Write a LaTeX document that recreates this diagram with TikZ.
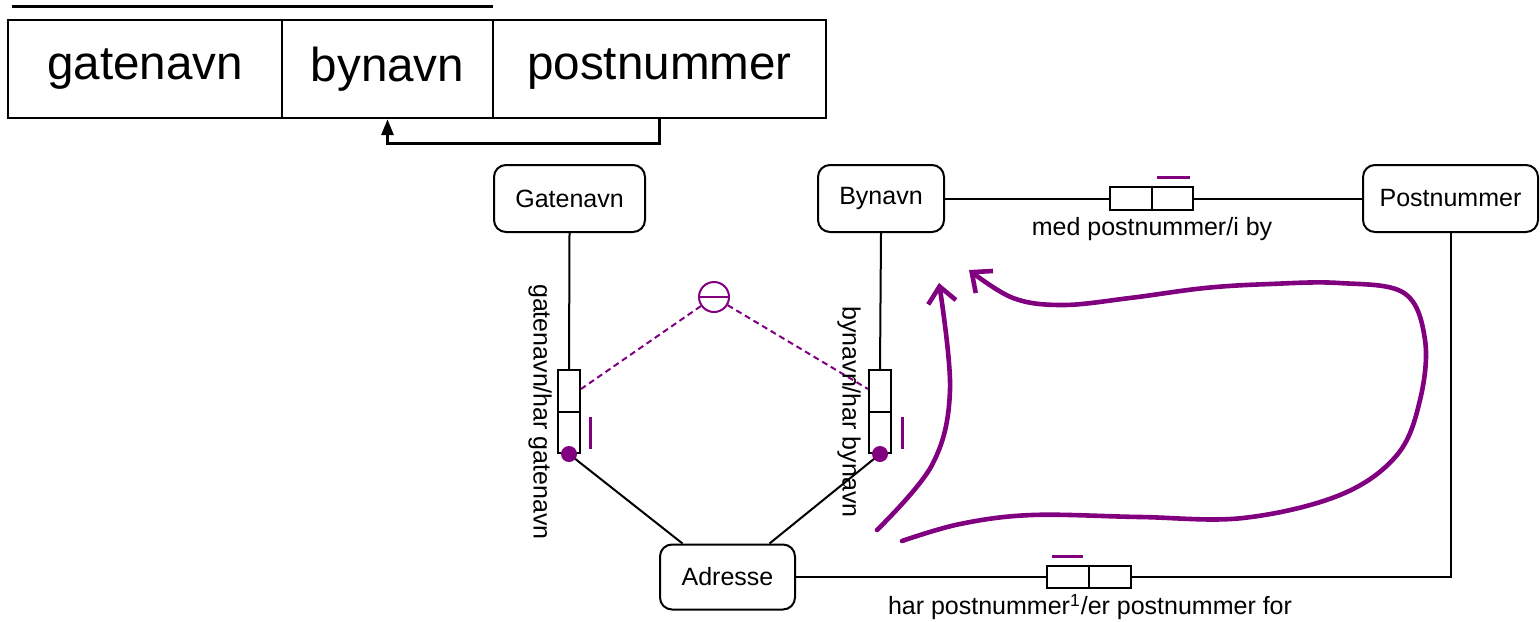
\documentclass[tikz,border=0pt]{standalone}
\usepackage{fontspec}
\setmainfont{Liberation Sans}
\usetikzlibrary{arrows.meta,calc}
\definecolor{plum}{HTML}{800080}

\begin{document}
\begin{tikzpicture}[x=0.5pt,y=-0.5pt,
  cell/.style={draw, line width=1.2pt, minimum height=49pt, inner sep=0pt,
    font=\fontsize{23.8}{28}\selectfont},
  entity/.style={draw, line width=1pt, rounded corners=6pt, inner sep=0pt,
    minimum height=33.5pt, font=\fontsize{12.5}{15}\selectfont},
  rolebox/.style={draw, line width=1pt, inner sep=0pt},
  conn/.style={line width=1pt},
  lbl/.style={inner sep=0pt, font=\fontsize{12.5}{15}\selectfont},
  bar/.style={draw=plum, line width=1.5pt},
  dotline/.style={draw=plum, line width=1pt, dash pattern=on 3pt off 2pt},
  sketch/.style={draw=plum, line width=2.3pt, line cap=round, smooth, tension=0.6},
  sketchtip/.style={-{Straight Barb[length=8pt,width=14pt,line width=2.3pt]}}
]
\useasboundingbox (0,0) rectangle (1540,621);

% relation schema
\draw[line width=1.5pt] (12,6) -- (493,6);
\node[cell, minimum width=137pt] (cgate) at (145,69) {gatenavn};
\node[cell, minimum width=105.5pt] (cby) at (387.5,69) {bynavn};
\node[cell, minimum width=166.5pt] (cpost) at (659.5,69) {postnummer};
\draw[line width=1.5pt, -{Triangle[length=8pt,width=6pt]}]
  (cpost.south) -- ++(0,24) -| (cby.south);

% entities
\node[entity, minimum width=75.5pt] (gatenavn) at (569.5,198.5) {Gatenavn};
\node[entity, minimum width=63pt] (bynavn) at (881,198.5) {Bynavn};
\node[entity, minimum width=87.5pt] (postnummer) at (1450.5,198.5) {Postnummer};
\node[entity, minimum width=67.5pt, minimum height=32.5pt] (adresse) at (727.5,577) {Adresse};

% role boxes
\node[rolebox, minimum width=41.5pt, minimum height=11.5pt] (rbp) at (1151.5,198.5) {};
\draw[conn] (rbp.north) -- (rbp.south);
\node[rolebox, minimum width=11pt, minimum height=41.5pt] (rg) at (569,411.5) {};
\draw[conn] (rg.west) -- (rg.east);
\node[rolebox, minimum width=11pt, minimum height=41.5pt] (rb) at (880,411.5) {};
\draw[conn] (rb.west) -- (rb.east);
\node[rolebox, minimum width=42pt, minimum height=11pt] (rp) at (1089,577) {};
\draw[conn] (rp.north) -- (rp.south);

% connectors
\draw[conn] (bynavn.east) -- (rbp.west);
\draw[conn] (rbp.east) -- (postnummer.west);
\draw[conn] (gatenavn.south) -- (rg.north);
\draw[conn] (rg.south) -- ($(adresse.north)+(-45,0)$);
\draw[conn] (bynavn.south) -- (rb.north);
\draw[conn] (rb.south) -- ($(adresse.north)+(42,0)$);
\draw[conn] (postnummer.south) |- (rp.east);
\draw[conn] (rp.west) -- (adresse.east);

% mandatory dots
\fill[plum] (rg.south) circle[radius=4pt];
\fill[plum] (rb.south) circle[radius=4pt];

% uniqueness bars
\draw[bar] (1157,177) -- (1190,177);
\draw[bar] (1052,556) -- (1083,556);
\draw[bar] (590,417) -- (590,449);
\draw[bar] (902,417) -- (902,449);

% exclusion constraint
\node[draw=plum, line width=1pt, circle, minimum size=15pt, inner sep=0pt] (excl) at (714,297) {};
\draw[plum, line width=1pt] (excl.west) -- (excl.east);
\draw[dotline] (excl) -- ($(rg.north east)+(0,20)$);
\draw[dotline] (excl) -- ($(rb.north west)+(0,20)$);

% role labels
\node[lbl] (lbp) at (1152,229) {med postnummer/i by};
\node[lbl] (lp) at (1090,607) {har postnummer\textsuperscript{1}/er postnummer for};
\node[lbl, rotate=-90] (lg) at (540,412) {gatenavn/har gatenavn};
\node[lbl, rotate=-90] (lb) at (849,412) {bynavn/har bynavn};

% hand-drawn arrows
\draw[sketch, sketchtip] plot coordinates {(877,530) (932,465) (950,390) (939,283)};
\draw[sketch, sketchtip] plot coordinates {(902,541) (960,524) (1032,515) (1140,517) (1243,518) (1340,495) (1397,455) (1420,400) (1425,340) (1404,293) (1339,283) (1270,284) (1205,288) (1130,298) (1063,305) (1013,298) (969,270)};
\end{tikzpicture}
\end{document}
